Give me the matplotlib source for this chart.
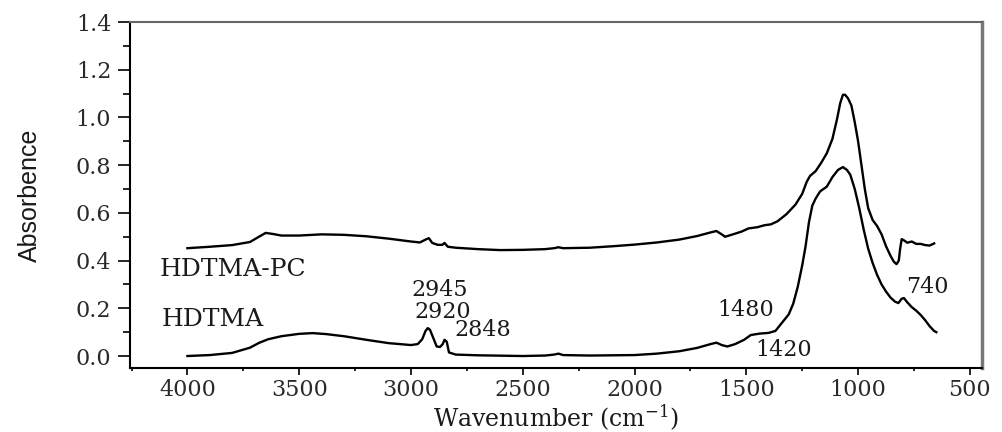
import matplotlib
matplotlib.use("Agg")
import matplotlib.pyplot as plt
from matplotlib.ticker import MultipleLocator, FormatStrFormatter

# FTIR spectra: wavenumber (cm-1) and absorbance, read point by point
pc_wavenumber = [4000, 3900, 3800, 3720, 3680, 3650, 3620, 3580, 3500, 3400, 3300, 3200,
                 3100, 3000, 2960, 2935, 2920, 2905, 2880, 2860, 2850, 2835, 2800, 2700,
                 2600, 2500, 2400, 2360, 2340, 2320, 2200, 2100, 2000, 1900, 1800, 1720,
                 1660, 1634, 1610, 1595, 1560, 1520, 1490, 1450, 1420, 1390, 1360, 1320,
                 1280, 1250, 1230, 1215, 1190, 1165, 1140, 1115, 1095, 1080, 1068, 1058,
                 1045, 1030, 1015, 1000, 985, 970, 955, 935, 915, 895, 875, 855, 840, 828,
                 818, 812, 805, 795, 780, 760, 740, 720, 700, 680, 660]
pc_absorbance = [0.452, 0.458, 0.465, 0.478, 0.500, 0.516, 0.512, 0.505, 0.505, 0.510, 0.508, 0.502,
                 0.492, 0.480, 0.476, 0.488, 0.494, 0.474, 0.466, 0.466, 0.474, 0.458, 0.454, 0.448,
                 0.444, 0.445, 0.448, 0.452, 0.456, 0.452, 0.454, 0.460, 0.467, 0.476, 0.488, 0.503,
                 0.518, 0.524, 0.510, 0.500, 0.510, 0.522, 0.535, 0.540, 0.548, 0.552, 0.565, 0.595,
                 0.635, 0.680, 0.730, 0.755, 0.775, 0.810, 0.850, 0.910, 0.990, 1.060, 1.095, 1.095,
                 1.080, 1.050, 0.980, 0.900, 0.800, 0.700, 0.620, 0.570, 0.545, 0.510, 0.460, 0.420, 0.395, 0.385,
                 0.400, 0.450, 0.490, 0.485, 0.475, 0.480, 0.470, 0.470, 0.465, 0.463, 0.472]

hd_wavenumber = [4000, 3900, 3800, 3720, 3680, 3640, 3580, 3500, 3440, 3380, 3300, 3200,
                 3100, 3000, 2970, 2950, 2935, 2925, 2915, 2900, 2885, 2870, 2858, 2850,
                 2840, 2830, 2800, 2700, 2500, 2400, 2360, 2340, 2320, 2200, 2000, 1900,
                 1800, 1720, 1660, 1634, 1610, 1585, 1550, 1510, 1480, 1440, 1400, 1370,
                 1340, 1310, 1290, 1270, 1250, 1235, 1220, 1205, 1190, 1170, 1140, 1115,
                 1090, 1068, 1050, 1035, 1015, 995, 975, 955, 935, 915, 895, 875, 855,
                 835, 820, 805, 795, 780, 760, 740, 720, 700, 680, 660, 650]
hd_absorbance = [0.000, 0.004, 0.013, 0.035, 0.055, 0.070, 0.083, 0.093, 0.096, 0.092, 0.083, 0.068,
                 0.054, 0.046, 0.050, 0.070, 0.105, 0.117, 0.110, 0.075, 0.040, 0.038, 0.050, 0.068,
                 0.060, 0.015, 0.006, 0.003, 0.000, 0.002, 0.006, 0.010, 0.004, 0.002, 0.004, 0.010,
                 0.020, 0.034, 0.050, 0.056, 0.046, 0.040, 0.050, 0.068, 0.088, 0.094, 0.097, 0.105,
                 0.140, 0.175, 0.220, 0.290, 0.380, 0.460, 0.560, 0.630, 0.660, 0.690, 0.710, 0.750,
                 0.780, 0.792, 0.780, 0.760, 0.700, 0.620, 0.530, 0.450, 0.390, 0.340, 0.300, 0.270, 0.245,
                 0.228, 0.222, 0.240, 0.243, 0.225, 0.205, 0.190, 0.172, 0.150, 0.125, 0.105, 0.100]

# series names and peak labels (text, x, y)
series_labels = [("HDTMA-PC", 4123, 0.363), ("HDTMA", 4114, 0.155)]
peak_labels = [("2945", 2870, 0.277), ("2920", 2857, 0.184), ("2848", 2678, 0.109),
               ("1480", 1502, 0.193), ("1420", 1332, 0.025), ("740", 692, 0.290)]

serif = ["DejaVu Serif"]
plt.rcParams["mathtext.fontset"] = "dejavuserif"
ink = "#1a1a1a"

fig = plt.figure(figsize=(10.02, 4.32), dpi=100)
ax = fig.add_axes([0.1297, 0.1481, 0.8503, 0.8009])

ax.plot(pc_wavenumber, pc_absorbance, color="black", lw=1.7)
ax.plot(hd_wavenumber, hd_absorbance, color="black", lw=1.7)

for txt, x, y in series_labels:
    ax.text(x, y, txt, ha="left", va="center", fontsize=18, family=serif, color=ink)
for txt, x, y in peak_labels:
    ax.text(x, y, txt, ha="center", va="center", fontsize=16, family=serif, color=ink)

ax.set_xlim(4257, 446)
ax.set_ylim(-0.0503, 1.4)
ax.xaxis.set_major_locator(MultipleLocator(500))
ax.xaxis.set_minor_locator(MultipleLocator(250))
ax.yaxis.set_major_locator(MultipleLocator(0.2))
ax.yaxis.set_minor_locator(MultipleLocator(0.1))
ax.yaxis.set_major_formatter(FormatStrFormatter("%.1f"))

ax.tick_params(axis="x", which="major", direction="out", length=5, width=1.2, pad=3)
ax.tick_params(axis="x", which="minor", direction="out", length=2.5, width=1.2)
ax.tick_params(axis="y", which="major", direction="out", length=8.5, width=1.2, pad=5)
ax.tick_params(axis="y", which="minor", direction="out", length=5, width=1.2)
ax.tick_params(top=False, right=False, which="both")
for lab in ax.get_xticklabels() + ax.get_yticklabels():
    lab.set_family(serif)
    lab.set_fontsize(16)
    lab.set_color("#2a2a2a")

ax.spines["left"].set_linewidth(1.5)
ax.spines["bottom"].set_linewidth(1.5)
ax.spines["top"].set_linewidth(1.5)
ax.spines["top"].set_color("#666666")
ax.spines["right"].set_linewidth(2.5)
ax.spines["right"].set_color("#777777")

ax.set_xlabel("Wavenumber (cm$^{-1}$)", family=serif, fontsize=17, color=ink, labelpad=1)
ax.set_ylabel("Absorbence", family=["Liberation Sans", "DejaVu Sans"], fontsize=18,
              color=ink, labelpad=24)

fig.savefig("out.png", dpi=100)
